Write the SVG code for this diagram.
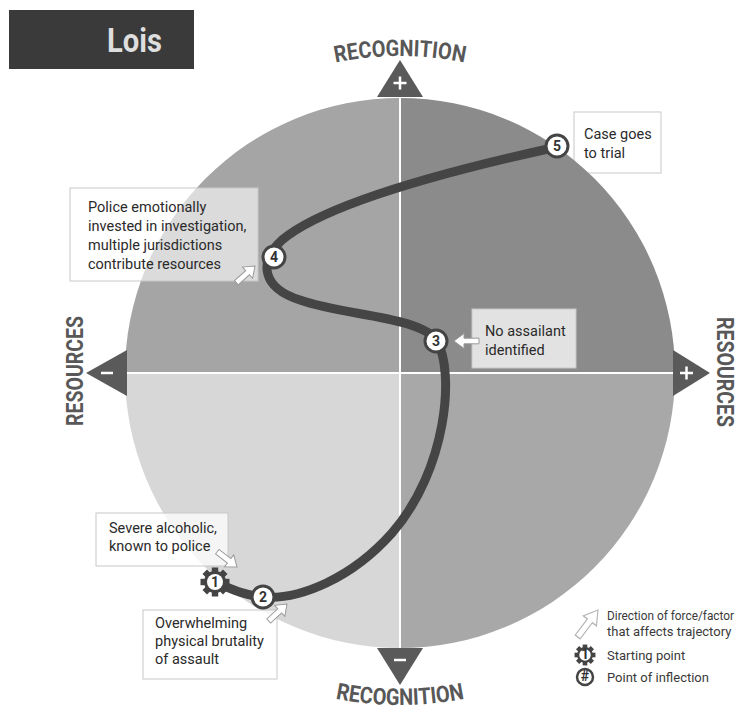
<svg xmlns="http://www.w3.org/2000/svg" width="746" height="711" viewBox="0 0 746 711">
<style>
.lbl{font-family:Roboto,"Liberation Sans",sans-serif;font-weight:700;fill:#585858}
.txt{font-family:Roboto,"Liberation Sans",sans-serif;font-size:14.5px;fill:#2a2a2a}
.leg{font-family:Roboto,"Liberation Sans",sans-serif;font-size:13px;fill:#3a3a3a}
.num{font-family:Roboto,"Liberation Sans",sans-serif;font-size:14px;font-weight:700;fill:#333;text-anchor:middle}
.node{fill:#fff;stroke:#444;stroke-width:3}
.box{stroke:#c8c8c8;stroke-width:1}
.tri{fill:#5a5a5a}
.sign{stroke:#fff;stroke-width:2.5}
.farrow{fill:#fff;stroke:#9a9a9a;stroke-width:1}
</style>
<defs>
<path id="arrowShape" d="M0,0 L-10,-7.5 L-10,-2.8 L-25,-2.8 L-25,2.8 L-10,2.8 L-10,7.5 Z"/>
<path id="arcTop" d="M 83,373 A 317,317 0 0 1 717,373"/>
<path id="arcBot" d="M 68,373 A 332,332 0 0 0 732,373"/>
<g id="gear">
<circle r="11" fill="#444"/>
<g fill="#444">
<rect x="-3.2" y="-14.5" width="6.4" height="29"/>
<rect x="-3.2" y="-14.5" width="6.4" height="29" transform="rotate(45)"/>
<rect x="-3.2" y="-14.5" width="6.4" height="29" transform="rotate(90)"/>
<rect x="-3.2" y="-14.5" width="6.4" height="29" transform="rotate(135)"/>
</g>
<circle r="8" fill="#fff"/>
</g>
</defs>

<g id="title">
<rect x="9" y="10" width="185" height="59" fill="#3a3a3a"/>
<text x="107" y="52" font-family="Roboto,'Liberation Sans',sans-serif" font-weight="700" font-size="33" fill="#dedede" textLength="55" lengthAdjust="spacingAndGlyphs">Lois</text>
</g>

<g id="box5-bg">
<rect class="box" x="574" y="112" width="87" height="61" fill="#fff"/>
</g>

<g id="quadrants">
<path d="M400,373 L400,98 A275,275 0 0 0 125,373 Z" fill="#a5a5a5"/>
<path d="M400,373 L675,373 A275,275 0 0 0 400,98 Z" fill="#8b8b8b"/>
<path d="M400,373 L125,373 A275,275 0 0 0 400,648 Z" fill="#d7d7d7"/>
<path d="M400,373 L400,648 A275,275 0 0 0 675,373 Z" fill="#a8a8a8"/>
<line x1="400" y1="98" x2="400" y2="648" stroke="#fff" stroke-width="2"/>
<line x1="125" y1="373" x2="675" y2="373" stroke="#fff" stroke-width="2"/>
</g>

<g id="axes">
<polygon class="tri" points="377,97 423,97 400,60"/>
<path class="sign" d="M393.5,83 H406.5 M400,76.5 V89.5"/>
<polygon class="tri" points="377,648 423,648 400,685"/>
<path class="sign" d="M394,660 H406"/>
<polygon class="tri" points="127,350 127,396 86,373"/>
<path class="sign" d="M101,373 H113"/>
<polygon class="tri" points="673,350 673,396 710,373"/>
<path class="sign" d="M680,373 H693 M686.5,366.5 V379.5"/>
<text class="lbl" font-size="23"><textPath href="#arcTop" startOffset="50%" text-anchor="middle" textLength="130" lengthAdjust="spacingAndGlyphs">RECOGNITION</textPath></text>
<text class="lbl" font-size="23"><textPath href="#arcBot" startOffset="50%" text-anchor="middle" textLength="130" lengthAdjust="spacingAndGlyphs">RECOGNITION</textPath></text>
<text class="lbl" font-size="24" transform="translate(83,371) rotate(-90)" text-anchor="middle" textLength="110" lengthAdjust="spacingAndGlyphs">RESOURCES</text>
<text class="lbl" font-size="24" transform="translate(717,372) rotate(90)" text-anchor="middle" textLength="110" lengthAdjust="spacingAndGlyphs">RESOURCES</text>
</g>

<g id="boxes">
<rect class="box" x="70" y="188" width="188" height="93" fill="#fff" fill-opacity="0.6"/>
<rect class="box" x="472" y="309" width="104" height="59" fill="#fff" fill-opacity="0.75"/>
<rect class="box" x="96" y="513" width="132" height="53" fill="#fff" fill-opacity="0.75"/>
<rect class="box" x="143" y="610" width="134" height="69" fill="#fff" fill-opacity="0.75"/>
</g>

<g id="connectors">
<path d="M557,147 C470,166 330,200 282,240 C258,262 262,288 300,300 C345,316 420,316 437,341 C455,372 447,470 392,533 C352,578 300,600 263,597 C242,595 230,588 215,582" fill="none" stroke="#454545" stroke-width="9" stroke-linecap="round" stroke-linejoin="round"/>
<use href="#arrowShape" class="farrow" transform="translate(255,266) rotate(-42)"/>
<use href="#arrowShape" class="farrow" transform="translate(454,341) rotate(180)"/>
<use href="#arrowShape" class="farrow" transform="translate(237,567) rotate(38)"/>
<use href="#arrowShape" class="farrow" transform="translate(287,604) rotate(-43)"/>
</g>

<g id="node1">
<use href="#gear" transform="translate(215,582)"/>
<text class="num" x="215" y="587">1</text>
</g>
<g id="node2">
<circle class="node" cx="263" cy="597" r="11"/>
<text class="num" x="263" y="602">2</text>
</g>
<g id="node3">
<circle class="node" cx="436" cy="341" r="11"/>
<text class="num" x="436" y="346">3</text>
</g>
<g id="node4">
<circle class="node" cx="274" cy="257" r="11"/>
<text class="num" x="274" y="262">4</text>
</g>
<g id="node5">
<circle class="node" cx="557" cy="146" r="11"/>
<text class="num" x="557" y="151">5</text>
</g>

<g id="label5">
<text class="txt" x="584" y="139">Case goes</text>
<text class="txt" x="584" y="158">to trial</text>
</g>
<g id="label4">
<text class="txt" x="88" y="212">Police emotionally</text>
<text class="txt" x="88" y="231">invested in investigation,</text>
<text class="txt" x="88" y="250">multiple jurisdictions</text>
<text class="txt" x="88" y="269">contribute resources</text>
</g>
<g id="label3">
<text class="txt" x="485" y="336">No assailant</text>
<text class="txt" x="485" y="355">identified</text>
</g>
<g id="label1">
<text class="txt" x="109" y="533">Severe alcoholic,</text>
<text class="txt" x="109" y="551">known to police</text>
</g>
<g id="label2">
<text class="txt" x="155" y="628">Overwhelming</text>
<text class="txt" x="155" y="646">physical brutality</text>
<text class="txt" x="155" y="664">of assault</text>
</g>

<g id="legend">
<use href="#arrowShape" fill="#fff" stroke="#b5b5b5" stroke-width="1" transform="translate(598,610) rotate(-53) scale(1.35,1.1)"/>
<text class="leg" x="607" y="620" textLength="127" lengthAdjust="spacingAndGlyphs">Direction of force/factor</text>
<text class="leg" x="607" y="636">that affects trajectory</text>
<use href="#gear" transform="translate(585,655) scale(0.72)"/>
<text class="num" x="585" y="659" font-size="10">1</text>
<text class="leg" x="607" y="660">Starting point</text>
<circle cx="585" cy="677" r="8" fill="#fff" stroke="#444" stroke-width="2.5"/>
<text class="num" x="585" y="681" font-size="10">#</text>
<text class="leg" x="607" y="682">Point of inflection</text>
</g>
</svg>
